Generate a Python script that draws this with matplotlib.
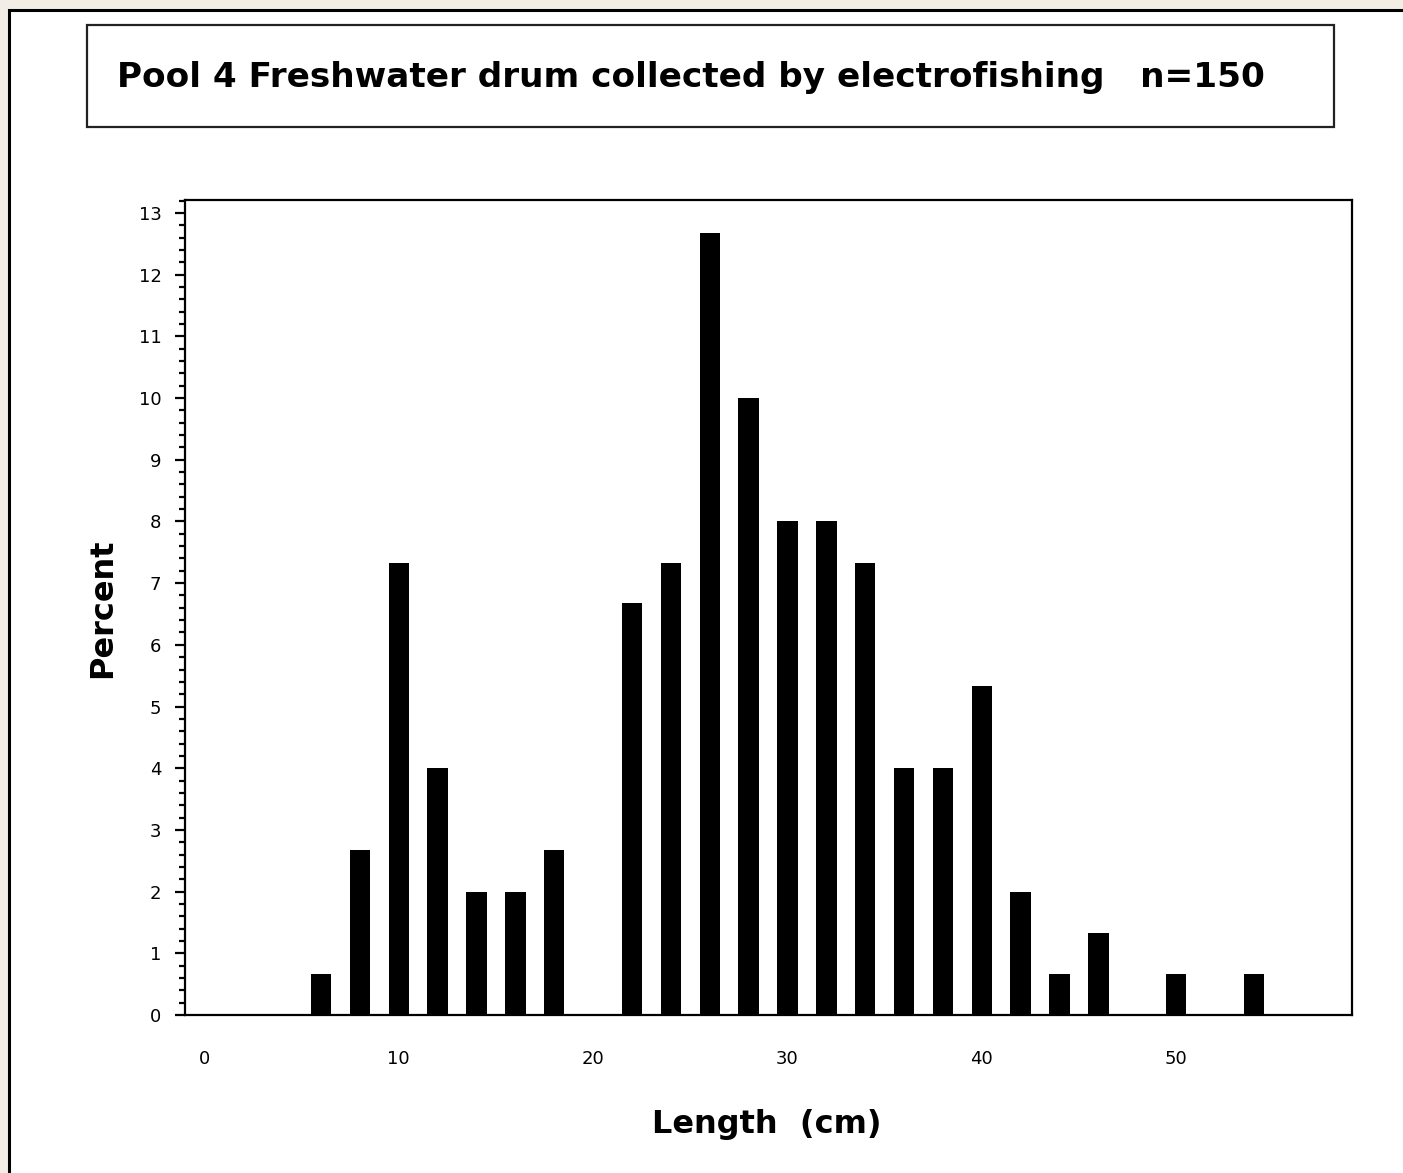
import numpy as np
import matplotlib
matplotlib.use('Agg')
import matplotlib.pyplot as plt
from matplotlib.patches import Rectangle
from matplotlib.ticker import MultipleLocator

################################################################################
# Length-frequency data: percent of fish in each 2 cm length class (n=150)
################################################################################
lengths = [6, 8, 10, 12, 14, 16, 18, 20, 22, 24, 26, 28, 30, 32, 34,
           36, 38, 40, 42, 44, 46, 48, 50, 52, 54]
percent = [0.67, 2.67, 7.33, 4.0, 2.0, 2.0, 2.67, 0.0, 6.67, 7.33, 12.67, 10.0,
           8.0, 8.0, 7.33, 4.0, 4.0, 5.33, 2.0, 0.67, 1.33, 0.0, 0.67, 0.0, 0.67]
xticks = [0, 10, 20, 30, 40, 50]
yticks = list(range(0, 14))

title = 'Pool 4 Freshwater drum collected by electrofishing   n=150'

W, H = 1403, 1173
fig = plt.figure(figsize=(W/100, H/100), dpi=100, facecolor='#f3eee5')

# white page with black border (left/top visible)
fig.patches.append(Rectangle((9/W, -0.05), 1.1, 1 - 10/H + 0.05, transform=fig.transFigure,
                             facecolor='white', edgecolor='black', linewidth=2.2, zorder=-3))

# title box
fig.patches.append(Rectangle((87/W, 1 - 127/H), (1334-87)/W, (127-25)/H, transform=fig.transFigure,
                             facecolor='white', edgecolor='#222222', linewidth=1.6, zorder=-2))
fig.text(117/W, 1 - 78/H, title, fontsize=24.7, fontweight='bold', ha='left', va='center',
         family='DejaVu Sans')

ax = fig.add_axes([185/W, 1 - 1015/H, (1352-185)/W, (1015-200)/H])
ax.set_zorder(2)
ax.bar(lengths, percent, width=1.05, color='black', edgecolor='black', linewidth=0)

ax.set_xlim(-1.0, 59.05)
ax.set_ylim(0, 13.21)
ax.set_xticks(xticks)
ax.set_yticks(yticks)
ax.yaxis.set_minor_locator(MultipleLocator(0.2))

ax.tick_params(axis='x', length=0, pad=25, labelsize=13)
ax.tick_params(axis='y', which='major', length=7, width=1.6, pad=10, labelsize=13)
ax.tick_params(axis='y', which='minor', length=4.5, width=1.6)
for s in ax.spines.values():
    s.set_linewidth(1.6)

fig.text(767/W, 1 - 1125/H, 'Length  (cm)', fontsize=23, fontweight='bold', ha='center', va='center')
fig.text(103/W, 1 - 608/H, 'Percent', fontsize=23, fontweight='bold', ha='center', va='center',
         rotation=90)

fig.savefig('out.png', dpi=100, facecolor=fig.get_facecolor())
